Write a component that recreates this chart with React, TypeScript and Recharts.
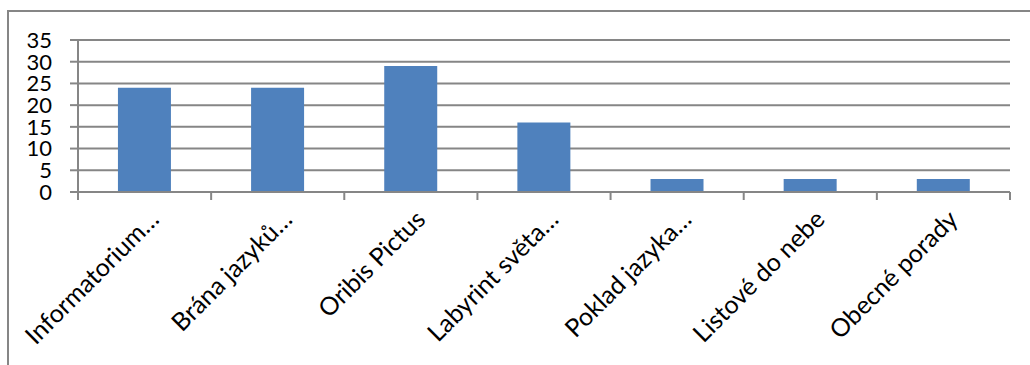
import React from "react";
import { BarChart, Bar, XAxis, YAxis, CartesianGrid } from "recharts";

const categories = [
  "Informatorium…",
  "Brána jazyků…",
  "Oribis Pictus",
  "Labyrint světa…",
  "Poklad jazyka…",
  "Listové do nebe",
  "Obecné porady",
];
const counts = [24, 24, 29, 16, 3, 3, 3];
const yTicks = [0, 5, 10, 15, 20, 25, 30, 35];

const data = categories.map((name, i) => ({ name, value: counts[i] }));

const GRID = "#868686";
const FONT = "Lato, 'Liberation Sans', sans-serif";

// label rotated -45deg plus the tick marks on the category boundaries
const CategoryTick = (props: any) => {
  const { x, y, payload, index } = props;
  const half = payload?.offset ?? 0;
  const last = index === categories.length - 1;
  const ax = x + 16;
  const ay = y + 29;
  return (
    <g>
      <line x1={x - half} y1={y} x2={x - half} y2={y + 8} stroke={GRID} strokeWidth={2} />
      {last && <line x1={x + half} y1={y} x2={x + half} y2={y + 8} stroke={GRID} strokeWidth={2} />}
      <text
        x={ax}
        y={ay}
        textAnchor="end"
        transform={`rotate(-45 ${ax} ${ay})`}
        fontSize={25}
        fontFamily={FONT}
        fill="#000"
      >
        {payload.value}
      </text>
    </g>
  );
};

export default function App() {
  return (
    <div style={{ position: "absolute", left: 0, top: 0, width: 1030, height: 365, overflow: "hidden", background: "#fff" }}>
      <div
        style={{
          position: "absolute",
          left: 7,
          top: 10,
          width: 1100,
          height: 400,
          border: `2px solid ${GRID}`,
          boxSizing: "border-box",
        }}
      />
      <div style={{ position: "absolute", left: 0, top: 0 }}>
        <BarChart
          width={1030}
          height={365}
          data={data}
          margin={{ top: 40, right: 20, left: 0, bottom: 0 }}
          barCategoryGap="30%"
        >
          <CartesianGrid horizontal vertical={false} stroke={GRID} strokeWidth={2} />
          <XAxis
            dataKey="name"
            height={173}
            interval={0}
            tickSize={0}
            tickMargin={0}
            tickLine={false}
            axisLine={{ stroke: GRID, strokeWidth: 2 }}
            tick={<CategoryTick />}
          />
          <YAxis
            width={78}
            domain={[0, 35]}
            ticks={yTicks}
            interval={0}
            tickSize={8}
            tickMargin={18}
            axisLine={{ stroke: GRID, strokeWidth: 2 }}
            tickLine={{ stroke: GRID, strokeWidth: 2 }}
            tick={{ fontSize: 22, fontFamily: FONT, fill: "#000" }}
          />
          <Bar dataKey="value" fill="#4F81BD" isAnimationActive={false} />
        </BarChart>
      </div>
    </div>
  );
}
